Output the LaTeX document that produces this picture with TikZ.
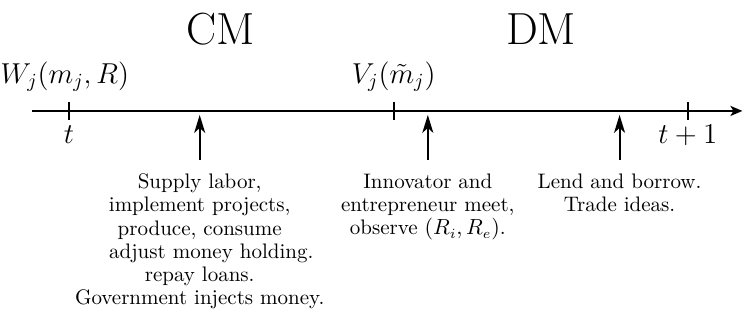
\documentclass[tikz,border=0pt]{standalone}
\usepackage{amsmath}
\usetikzlibrary{positioning, arrows.meta}

\begin{document}
\begin{tikzpicture}[
    node distance=1.03cm,
    timeline/.style={line width=1pt, -{Stealth[length=6pt, width=5pt, inset=1.5pt]}},
    tickmark/.style={line width=1pt},
    event/.style={line width=1pt, -{Stealth[length=9pt, width=5.5pt, inset=2.5pt]}, shorten <=0.24cm},
    phase/.style={font=\fontsize{22.5}{27}\selectfont, anchor=base},
    value/.style={font=\Large, anchor=base},
    desc/.style={align=center, inner sep=0pt, font=\fontsize{10.5}{11.6}\selectfont}
]
    \useasboundingbox (0,0) rectangle (13.06,5.69);
    % time line
    \coordinate (start) at (0.56,3.74);
    \coordinate (stop) at (13.05,3.74);
    \draw [timeline] (start) -- (stop);
    \coordinate (tt) at (1.21,3.74);
    \coordinate (tv) at (6.92,3.74);
    \coordinate (tn) at (12.09,3.74);
    \foreach \c in {tt, tv, tn}
        \draw [tickmark] (\c) ++(0,0.16) -- ++(0,-0.32);
    % labels
    \node [phase] (cm) at (3.87,4.90) {CM};
    \node [phase] (dm) at (9.51,4.90) {DM};
    \node [value] (valW) at (1.14,4.22) {$W_j(m_j,R)$};
    \node [value] (valV) at (6.92,4.22) {$V_j(\tilde{m}_j)$};
    \node [value] (dateT) at (1.21,3.16) {$t$};
    \node [value] (dateN) at (12.09,3.16) {$t+1$};
    % events
    \coordinate (ev1) at (3.51,3.67);
    \coordinate (ev2) at (7.52,3.67);
    \coordinate (ev3) at (10.89,3.67);
    \node [desc, below=of ev1] (cmtext) {Supply labor,\\ implement projects,\\ produce, consume\\
                                         \hspace*{1.1em}adjust money holding.\\ repay loans.\\ Government injects money.};
    \node [desc, below=of ev2] (meettext) {Innovator and\\ entrepreneur meet,\\ observe $(R_i,R_e)$.};
    \node [desc, below=of ev3] (dmtext) {Lend and borrow.\\ Trade ideas.};
    \draw [event] (cmtext.north) -- (ev1);
    \draw [event] (meettext.north) -- (ev2);
    \draw [event] (dmtext.north) -- (ev3);
\end{tikzpicture}
\end{document}
